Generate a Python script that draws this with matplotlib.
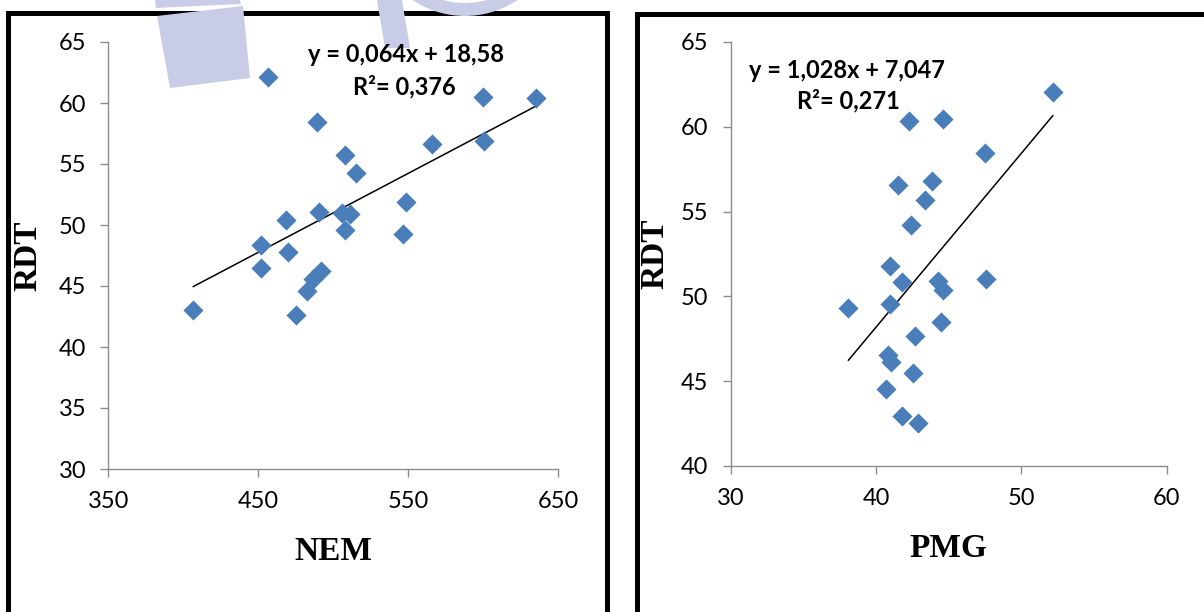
import numpy as np
import matplotlib
matplotlib.use("Agg")
import matplotlib.pyplot as plt
from matplotlib.patches import Polygon, Rectangle, Wedge

# data
nem = [406.7, 456.7, 451.6, 452.1, 468.4, 469.7, 474.9, 482.6, 486.5, 491.7,
       489.1, 490.4, 508.0, 515.0, 506.0, 511.1, 508.0, 546.6, 548.7, 566.0,
       599.7, 600.5, 635.0]
rdt_nem = [43.0, 62.1, 48.4, 46.5, 50.4, 47.75, 42.6, 44.6, 45.6, 46.25,
           58.45, 51.1, 55.7, 54.25, 51.0, 50.9, 49.55, 49.3, 51.85, 56.6,
           60.5, 56.85, 60.4]

pmg = [52.16, 42.28, 44.58, 47.5, 41.5, 43.85, 43.38, 42.41, 40.97, 41.76,
       44.24, 44.58, 47.59, 38.1, 40.97, 44.45, 42.67, 40.84, 41.03, 42.54,
       40.71, 41.76, 42.86]
rdt_pmg = [62.03, 60.35, 60.47, 58.44, 56.55, 56.83, 55.68, 54.2, 51.81, 50.87,
           50.91, 50.4, 51.0, 49.3, 49.58, 48.47, 47.69, 46.54, 46.12, 45.5,
           44.56, 42.97, 42.56]

eq_nem = ["y = 0,064x + 18,58", "R²= 0,376"]
eq_pmg = ["y = 1,028x + 7,047", "R²= 0,271"]

W, H = 1204, 612
fig = plt.figure(figsize=(W / 100, H / 100), dpi=100)
fig.patch.set_facecolor("white")


def px(x, y):
    return x / W, 1 - y / H


def panel(rect, x, y, xlim, ylim, xticks, yticks, xlabel, ylab_x, xlab_y):
    ax = fig.add_axes(rect)
    ax.set_xlim(*xlim)
    ax.set_ylim(*ylim)
    ax.set_xticks(xticks)
    ax.set_yticks(yticks)
    for s in ["top", "right"]:
        ax.spines[s].set_visible(False)
    for s in ["left", "bottom"]:
        ax.spines[s].set_color("#8c8c8c")
        ax.spines[s].set_linewidth(1.0)
    ax.tick_params(direction="out", length=6, width=1.0, color="#8c8c8c",
                   labelsize=17, pad=10)
    for lab in ax.get_xticklabels() + ax.get_yticklabels():
        lab.set_fontfamily("Lato")
    ax.scatter(x, y, marker="D", s=105, color="#4a7ebb", zorder=3,
               clip_on=False, linewidths=0)
    k, b = np.polyfit(x, y, 1)
    xs = np.array([min(x), max(x)])
    ax.plot(xs, k * xs + b, color="black", lw=1.1, zorder=2)
    ax.set_xlabel(xlabel, fontfamily="Liberation Serif", fontweight="bold",
                  fontsize=24)
    ax.xaxis.set_label_coords(0.5, xlab_y)
    ax.set_ylabel("RDT", fontfamily="Liberation Serif", fontweight="bold",
                  fontsize=24)
    ax.yaxis.set_label_coords(ylab_x, 0.5)
    return ax


panel([108.3 / W, 143 / H, 450 / W, 427 / H], nem, rdt_nem, (350, 650), (30, 65),
      [350, 450, 550, 650], range(30, 66, 5), "NEM", -0.145, -0.157)
panel([730.7 / W, 146 / H, 436 / W, 424 / H], pmg, rdt_pmg, (30, 60), (40, 65),
      [30, 40, 50, 60], range(40, 66, 5), "PMG", -0.139, -0.158)

# regression equations
for txt, (cx, cy) in zip(eq_nem, [(406, 55), (404, 87)]):
    fig.text(*px(cx, cy), txt, ha="center", va="center", fontsize=17,
             fontweight="bold", fontfamily="Lato", zorder=4)
for txt, (cx, cy) in zip(eq_pmg, [(847, 70), (848, 101)]):
    fig.text(*px(cx, cy), txt, ha="center", va="center", fontsize=17,
             fontweight="bold", fontfamily="Lato", zorder=4)

# panel frames
fig.patches.append(Rectangle(px(7.5, 700), 599 / W, 687 / H, fill=False,
                             edgecolor="black", lw=3.6,
                             transform=fig.transFigure, figure=fig))
fig.patches.append(Rectangle(px(637, 700), 700 / W, 686 / H, fill=False,
                             edgecolor="black", lw=3.6,
                             transform=fig.transFigure, figure=fig))

# watermark pieces at the top (under the text)
wm = "#c8cce6"
for pts in [[(155, 0), (240, 0), (241, 4), (156, 8)],
            [(157, 16), (243, 6), (250, 78), (170, 88)],
            [(377, 0), (402, 0), (410, 48), (385, 48)]]:
    fig.patches.append(Polygon([px(a, b) for a, b in pts], closed=True,
                               facecolor=wm, edgecolor="none",
                               transform=fig.transFigure, figure=fig, zorder=2))
ring = Wedge((465, H + 78), 94, 205, 335, width=13, facecolor=wm,
             edgecolor="none", transform=None, zorder=2)
fig.patches.append(ring)

fig.savefig("out.png", dpi=100)
